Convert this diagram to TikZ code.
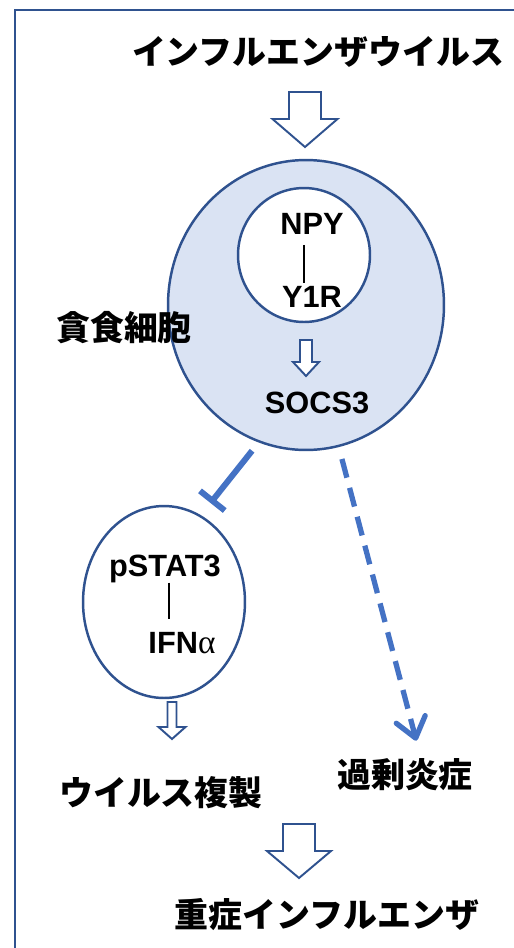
\documentclass[tikz,border=0pt]{standalone}
\usepackage{fontspec}
\setmainfont{Liberation Sans}
\newfontfamily\jpfont{Noto Sans CJK JP}
\newfontfamily\greekfont{Liberation Serif}
\usetikzlibrary{arrows.meta,shapes.geometric,calc}
\definecolor{CellLine}{HTML}{2F528F}
\definecolor{CellFill}{HTML}{DAE3F3}
\definecolor{SignalBlue}{HTML}{4472C4}

% hollow down arrow: x, top, shaft half width, shaft end, head half width, tip
\newcommand{\hollowdown}[6]{%
  \draw[hollow] (#1-#3,#2) -- (#1+#3,#2) -- (#1+#3,#4) -- (#1+#5,#4)
    -- (#1,#6) -- (#1-#5,#4) -- (#1-#3,#4) -- cycle;}

\begin{document}
\begin{tikzpicture}[x=0.02cm, y=-0.02cm,
   jp/.style={font=\jpfont\bfseries\fontsize{19.3}{23}\selectfont, inner sep=0pt, anchor=base},
   lbl/.style={font=\bfseries\fontsize{17.5}{20}\selectfont, inner sep=0pt, anchor=base},
   cellshape/.style={draw=CellLine, line width=1.4pt, ellipse, inner sep=0pt},
   hollow/.style={draw=CellLine, line width=1.1pt, fill=white, line join=miter},
   link/.style={black, line width=0.8pt},
   inhib/.style={SignalBlue, line width=3.4pt, -{Bar[width=18pt]}},
   excess/.style={SignalBlue, line width=3pt, dash pattern=on 11pt off 6pt,
                  -{Straight Barb[length=11pt, width=17pt, round]}}]
  \clip (0,0) rectangle (514,948);
  \draw[CellLine, line width=1.3pt] (15,10) rectangle (560,990);

  \node[jp] (virus) at (318,64) {インフルエンザウイルス};
  \hollowdown{305}{92}{16}{119}{32.5}{147}

  % macrophage with receptor
  \node[cellshape, fill=CellFill, minimum width=5.52cm, minimum height=5.8cm] (cell) at (306,305) {};
  \node[cellshape, fill=white, minimum width=2.64cm, minimum height=2.68cm] (recep) at (304,255) {};
  \node[jp] (phago) at (124,340) {貪食細胞};
  \node[lbl] (npy) at (312,234) {NPY};
  \node[lbl] (y1r) at (312,307) {Y1R};
  \draw[link, shorten <=6pt, shorten >=1.7pt] (npy.south -| recep.center) -- (y1r.north -| recep.center);
  \hollowdown{306}{340}{6}{362}{13}{376}
  \node[lbl] (socs) at (317,413) {SOCS3};

  % STAT3 side
  \node[cellshape, minimum width=3.24cm, minimum height=3.84cm] (stat) at (164,602) {};
  \node[lbl] (pstat) at (165,576) {pSTAT3};
  \node[lbl] (ifn) at (182,653) {IFN{\greekfont\mdseries\fontsize{19}{20}\selectfont α}};
  \draw[link, shorten >=7pt] ([xshift=2.3pt]pstat.south) -- ([xshift=2.3pt]pstat.south |- ifn.north);
  \hollowdown{172}{702}{4.5}{727}{13.5}{739}

  \node[jp] (repl) at (161,805) {ウイルス複製};
  \node[jp] (infl) at (405,787) {過剰炎症};

  \draw[inhib, shorten <=6pt, shorten >=8.8pt] (cell.251) -- (stat.67);
  \draw[excess, shorten <=7pt, shorten >=10pt] (cell.283) -- ([xshift=9pt]infl.north);

  \hollowdown{299}{824}{16}{851}{32}{878}
  \node[jp] (severe) at (327,927) {重症インフルエンザ};
\end{tikzpicture}
\end{document}
